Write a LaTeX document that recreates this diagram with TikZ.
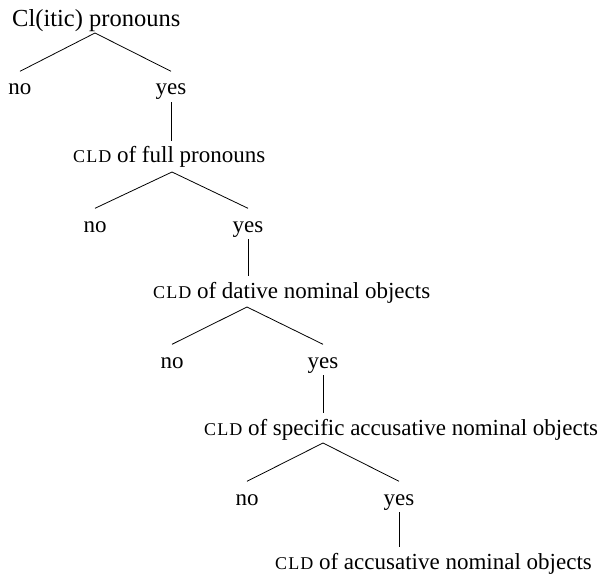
\documentclass[tikz,border=0pt]{standalone}
\usepackage{fontspec}
\setmainfont{Liberation Serif}
\newfontfamily\spacedcaps[LetterSpace=6]{Liberation Serif}
\newcommand\treefont{\fontsize{23}{28}\selectfont}
\newcommand\rootfont{\fontsize{24.5}{28}\selectfont}
% small capitals set as reduced, slightly spaced capitals
\newcommand\cld{{\spacedcaps\fontsize{18}{20}\selectfont CLD}}
\begin{document}
\begin{tikzpicture}[x=1pt,y=-1pt,
  cat/.style={font=\treefont, inner sep=0pt, anchor=base west,
              text height=22pt, text depth=8pt},
  lab/.style={font=\treefont, inner sep=0pt, anchor=base,
              text height=23.5pt, text depth=7pt},
  branch/.style={line width=0.8pt}]
\useasboundingbox (0,0) rectangle (605,575);

% level 0
\node[cat, font=\rootfont] (t0) at (12,27) {Cl(itic) pronouns};
\coordinate (a0) at (95,33);
\node[lab] (n0) at (20,95) {no};
\node[lab] (y0) at (171,95) {yes};
\draw[branch] (a0) -- (n0.north);
\draw[branch] (a0) -- (y0.north);

% level 1
\node[cat] (t1) at (73,163) {\cld{} of full pronouns};
\draw[branch] (y0.south) -- (y0.south |- t1.north);
\coordinate (a1) at (172,172);
\node[lab] (n1) at (95,232) {no};
\node[lab] (y1) at (248,232) {yes};
\draw[branch] (a1) -- (n1.north);
\draw[branch] (a1) -- (y1.north);

% level 2
\node[cat] (t2) at (153,298) {\cld{} of dative nominal objects};
\draw[branch] (y1.south) -- (y1.south |- t2.north);
\coordinate (a2) at (247,307);
\node[lab] (n2) at (172,368) {no};
\node[lab] (y2) at (323,368) {yes};
\draw[branch] (a2) -- (n2.north);
\draw[branch] (a2) -- (y2.north);

% level 3
\node[cat] (t3) at (204,435) {\cld{} of specific accusative nominal objects};
\draw[branch] (y2.south) -- (y2.south |- t3.north);
\coordinate (a3) at (323,443);
\node[lab] (n3) at (247,505) {no};
\node[lab] (y3) at (399,505) {yes};
\draw[branch] (a3) -- (n3.north);
\draw[branch] (a3) -- (y3.north);

% level 4
\node[cat] (t4) at (275,569) {\cld{} of accusative nominal objects};
\draw[branch] (y3.south) -- (y3.south |- t4.north);
\end{tikzpicture}
\end{document}
